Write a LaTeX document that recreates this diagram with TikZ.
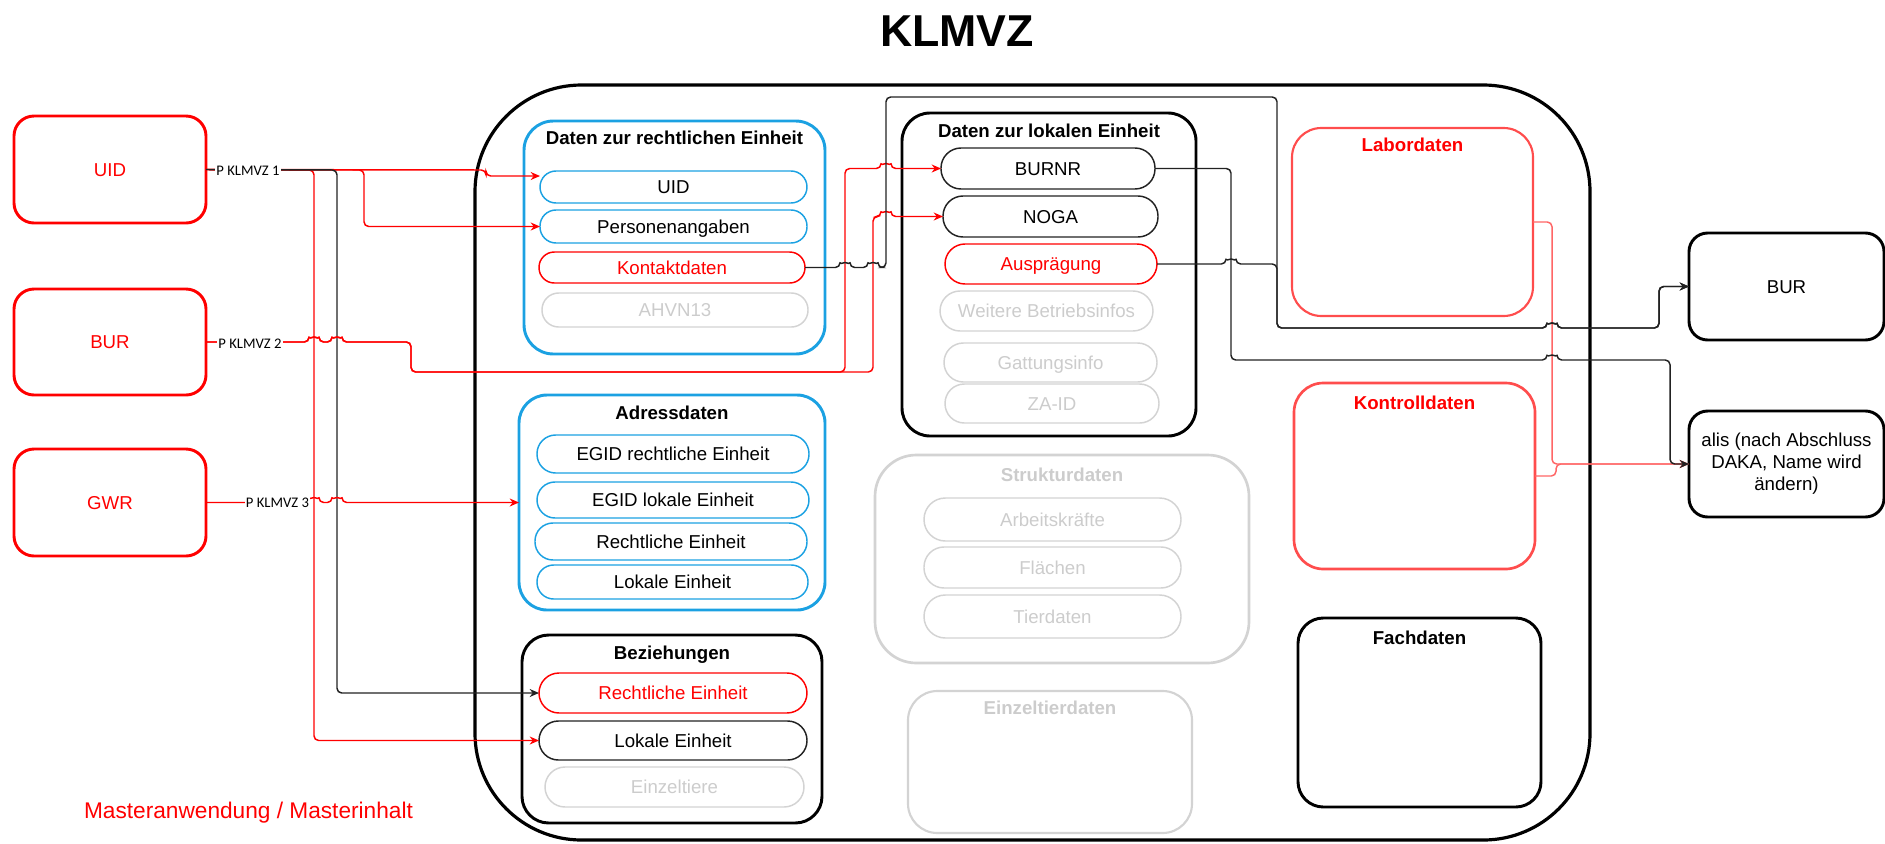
\documentclass[tikz,border=0pt]{standalone}
\usepackage{fontspec}
\setmainfont{Liberation Sans}
\newfontfamily\labelfont{Carlito}
\usetikzlibrary{arrows.meta}

\definecolor{mred}{HTML}{FF0000}
\definecolor{mblue}{HTML}{1BA1E2}
\definecolor{mgray}{HTML}{D3D3D3}
\definecolor{mgtext}{HTML}{CCCCCC}
\definecolor{lred}{HTML}{FF4D4D}
\definecolor{cred}{HTML}{FF6666}
\definecolor{dline}{HTML}{222222}

\begin{document}
\begin{tikzpicture}[x=0.75pt,y=-0.75pt,
  every node/.style={inner sep=0pt, outer sep=0pt},
  area/.style n args={4}{at={({(#1+#3)/2},{(#2+#4)/2})},
    minimum width={(#3-#1)*0.75pt}, minimum height={(#4-#2)*0.75pt}},
  frame/.style={draw, rectangle, inner sep=0pt},
  txt/.style={font=\fontsize{14}{17}\selectfont, text height=10pt, text depth=0pt},
  pill/.style={frame, txt, line width=1.1pt},
  ttl/.style={font=\bfseries\fontsize{14}{17}\selectfont, text height=10pt, text depth=0pt},
  src/.style={frame, txt, draw=mred, line width=2.2pt, rounded corners=15pt, text=mred},
  conn/.style={line width=1.1pt, rounded corners=3.5pt, -{Stealth[length=7pt,width=6pt]}},
  jump/.style 2 args={insert path={-- ({#1-5},#2) arc[start angle=180,end angle=360,radius=5]}},
  lbl/.style={fill=white, inner sep=1pt, font=\labelfont\fontsize{11}{13}\selectfont, text height=7.5pt, text depth=0pt},
]
\useasboundingbox (0,0) rectangle (1885,843);

% heading
\node[font=\bfseries\fontsize{33.5}{40}\selectfont, text height=24pt, text depth=0pt] (title) at (957,30) {KLMVZ};

% source applications
\node[src, area={14}{116}{206}{223}] (uid) {UID};
\node[src, area={14}{289}{206}{395}] (bur) {BUR};
\node[src, area={14}{449}{206}{556}] (gwr) {GWR};

% main container
\node[frame, line width=2.4pt, rounded corners=80pt, area={475}{85}{1590}{840}] (klmvz) {};

% Daten zur rechtlichen Einheit
\node[frame, draw=mblue, line width=2.2pt, rounded corners=22pt, area={524}{121}{825}{354}] (recht) {};
\node[ttl] (rechtT) at (674.5,138) {Daten zur rechtlichen Einheit};
\node[pill, draw=mblue, rounded corners=12pt, area={540}{171}{807}{203}] (uidsub) {UID};
\node[pill, draw=mblue, rounded corners=12pt, area={540}{210}{807}{243}] (personen) {Personenangaben};
\node[pill, draw=mred, text=mred, rounded corners=11.5pt, area={539}{252}{805}{283}] (kontakt) {Kontaktdaten};
\node[pill, draw=mgray, text=mgtext, rounded corners=12.5pt, area={542}{293}{808}{327}] (ahvn) {AHVN13};

% Adressdaten
\node[frame, draw=mblue, line width=2.2pt, rounded corners=21pt, area={519}{395}{825}{610}] (adress) {};
\node[ttl] (adressT) at (672,413) {Adressdaten};
\node[pill, draw=mblue, rounded corners=14pt, area={537}{435}{809}{473}] (egidre) {EGID rechtliche Einheit};
\node[pill, draw=mblue, rounded corners=13.5pt, area={537}{482}{809}{518}] (egidle) {EGID lokale Einheit};
\node[pill, draw=mblue, rounded corners=13.5pt, area={535}{523}{807}{560}] (adre) {Rechtliche Einheit};
\node[pill, draw=mblue, rounded corners=12.5pt, area={537}{565}{808}{599}] (adle) {Lokale Einheit};

% Beziehungen
\node[frame, line width=2.2pt, rounded corners=20pt, area={522}{635}{822}{823}] (bez) {};
\node[ttl] (bezT) at (672,653) {Beziehungen};
\node[pill, draw=mred, text=mred, rounded corners=15pt, area={539}{673}{807}{713}] (bezre) {Rechtliche Einheit};
\node[pill, draw=dline, rounded corners=14.5pt, area={539}{721}{807}{760}] (bezle) {Lokale Einheit};
\node[pill, draw=mgray, text=mgtext, rounded corners=15pt, area={545}{767}{804}{807}] (tiere) {Einzeltiere};

% Daten zur lokalen Einheit
\node[frame, line width=2.2pt, rounded corners=21pt, area={902}{113}{1196}{436}] (lokal) {};
\node[ttl] (lokalT) at (1049,131) {Daten zur lokalen Einheit};
\node[pill, draw=dline, rounded corners=15pt, area={941}{148}{1155}{189}] (burnr) {BURNR};
\node[pill, draw=dline, rounded corners=15pt, area={943}{196}{1158}{237}] (noga) {NOGA};
\node[pill, draw=mred, text=mred, rounded corners=15pt, area={945}{244}{1157}{284}] (auspr) {Ausprägung};
\node[pill, draw=mgray, text=mgtext, rounded corners=15pt, area={940}{291}{1153}{331}] (weitere) {Weitere Betriebsinfos};
\node[pill, draw=mgray, text=mgtext, rounded corners=14.5pt, area={944}{343}{1157}{382}] (gattung) {Gattungsinfo};
\node[pill, draw=mgray, text=mgtext, rounded corners=14.5pt, area={945}{384}{1159}{423}] (zaid) {ZA-ID};

% Strukturdaten
\node[frame, draw=mgray, line width=2pt, rounded corners=31pt, area={875}{455}{1249}{663}] (struktur) {};
\node[ttl, text=mgtext] (strukturT) at (1062,475) {Strukturdaten};
\node[pill, draw=mgray, text=mgtext, rounded corners=16pt, area={924}{498}{1181}{541}] (arbeit) {Arbeitskräfte};
\node[pill, draw=mgray, text=mgtext, rounded corners=15pt, area={924}{547}{1181}{588}] (flaechen) {Flächen};
\node[pill, draw=mgray, text=mgtext, rounded corners=16pt, area={924}{595}{1181}{638}] (tierdaten) {Tierdaten};

% Einzeltierdaten
\node[frame, draw=mgray, line width=1.6pt, rounded corners=22pt, area={908}{691}{1192}{833}] (einzel) {};
\node[ttl, text=mgtext] (einzelT) at (1050,708) {Einzeltierdaten};

% Labordaten, Kontrolldaten, Fachdaten
\node[frame, draw=lred, line width=1.6pt, rounded corners=22pt, area={1292}{128}{1533}{316}] (labor) {};
\node[ttl, text=mred] (laborT) at (1412.5,145) {Labordaten};
\node[frame, draw=lred, line width=2pt, rounded corners=22pt, area={1294}{383}{1535}{569}] (kontroll) {};
\node[ttl, text=mred] (kontrollT) at (1414.5,403) {Kontrolldaten};
\node[frame, line width=2.2pt, rounded corners=19pt, area={1298}{618}{1541}{807}] (fach) {};
\node[ttl] (fachT) at (1419.5,638) {Fachdaten};

% target applications
\node[frame, txt, line width=2.2pt, rounded corners=14pt, area={1689}{233}{1884}{340}] (burR) {BUR};
\node[frame, line width=2.2pt, rounded corners=14pt, area={1689}{411}{1884}{517}] (alis) {};
\node[align=center, font=\fontsize{14}{16.5}\selectfont] (alisT) at (alis.center) {alis (nach Abschluss\\DAKA, Name wird\\ändern)};

% legend
\node[anchor=base, text=mred, font=\fontsize{17}{20}\selectfont] (master) at (248.5,818) {Masteranwendung / Masterinhalt};

% connectors from UID
\draw[conn, mred] (uid.east) -- (486,170) -- (486,176) -- ([yshift=8.25pt]uidsub.west);
\draw[conn, mred] (uid.east) -- (364,170) |- (personen.west);
\draw[conn, mred] (uid.east) -- (314,170) |- (bezle.west);
\draw[conn, dline] (uid.east) -- (337,170) |- (bezre.west);

% connectors from BUR
\draw[conn, mred] (bur.east) [jump={314}{342}] [jump={337}{342}] -- (411,342) -- (411,372) -- (873,372) -- (873,216.5) [jump={886}{216.5}] -- (noga.west);
\draw[conn, mred] (bur.east) [jump={314}{342}] [jump={337}{342}] -- (411,342) -- (411,372) -- (845,372) -- (845,168.5) [jump={886}{168.5}] -- (burnr.west);

% connector from GWR
\draw[conn, mred] (gwr.east) [jump={314}{502.5}] [jump={337}{502.5}] -- (adress.west);

% connectors to the target applications
\draw[conn, cred] (labor.east) -- (1552,222) |- (alis.west);
\draw[conn, cred] (kontroll.east) -- (1556,476) -- (1556,464) -- (alis.west);
\draw[conn, dline] (kontakt.east) [jump={845}{267.5}] [jump={873}{267.5}] -- (886,267.5) -- (886,97) -- (1277,97) -- (1277,328) [jump={1552}{328}] -- (1659,328) |- (burR.west);
\draw[conn, dline] (auspr.east) [jump={1231}{264}] -- (1277,264) -- (1277,328) [jump={1552}{328}] -- (1659,328) |- (burR.west);
\draw[conn, dline] (burnr.east) -- (1231,168.5) -- (1231,360) [jump={1552}{360}] -- (1670,360) |- (alis.west);

% interface labels
\node[lbl] (p1) at (248,170) {P KLMVZ 1};
\node[lbl] (p2) at (250,343) {P KLMVZ 2};
\node[lbl] (p3) at (277.5,502) {P KLMVZ 3};
\end{tikzpicture}
\end{document}
